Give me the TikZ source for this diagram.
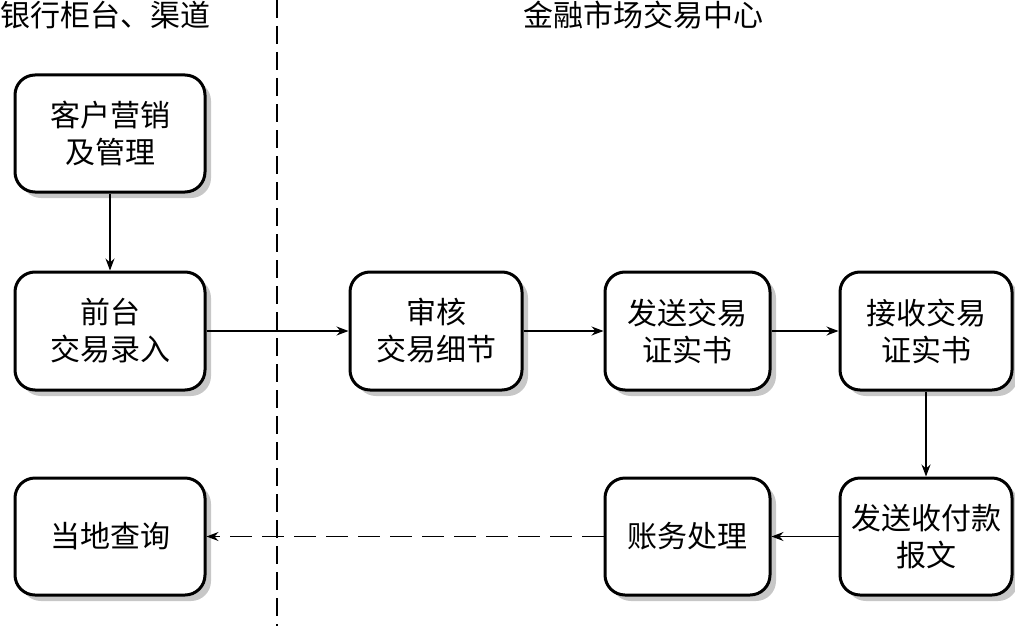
\documentclass[tikz,border=0pt]{standalone}
\usepackage{fontspec}
\newfontfamily\cjk{Noto Sans CJK SC}
\usetikzlibrary{arrows.meta,shadows}
\begin{document}
\begin{tikzpicture}[x=0.5pt,y=-0.5pt,
  box/.style={draw, line width=1.5pt, rounded corners=10pt, fill=white,
    align=center, inner sep=0pt, font=\cjk\fontsize{15}{18.5}\selectfont,
    drop shadow={shadow xshift=3pt, shadow yshift=-3pt, fill=black!22, opacity=1}},
  conn/.style={line width=0.6pt, -{Stealth[length=6pt,width=4.5pt,inset=2pt]}},
  hdr/.style={font=\cjk\fontsize{15}{16}\selectfont, inner sep=0pt}]
\useasboundingbox (0,0) rectangle (1015,626);
\node[hdr, anchor=west] (h1) at (0,15) {银行柜台、渠道};
\node[hdr] (h2) at (643,15) {金融市场交易中心};
\coordinate (dtop) at (277,0);
\coordinate (dbot) at (277,626);
\draw[line width=0.75pt, dash pattern=on 9pt off 4pt] (dtop) -- (dbot);
\node[box, minimum width=95pt, minimum height=58.5pt] (b1) at (110,133.5) {客户营销\\及管理};
\node[box, minimum width=95pt, minimum height=59pt] (b2) at (110,331) {前台\\交易录入};
\node[box, minimum width=95pt, minimum height=58.5pt] (b3) at (110,536.5) {当地查询};
\node[box, minimum width=86pt, minimum height=59pt] (b4) at (436,331) {审核\\交易细节};
\node[box, minimum width=82.5pt, minimum height=59pt] (b5) at (687.5,331) {发送交易\\证实书};
\node[box, minimum width=86pt, minimum height=59pt] (b6) at (926,331) {接收交易\\证实书};
\node[box, minimum width=86pt, minimum height=58.5pt] (b7) at (926,536.5) {发送收付款\\报文};
\node[box, minimum width=82.5pt, minimum height=58.5pt] (b8) at (687.5,536.5) {账务处理};
\draw[conn] (b1) -- (b2);
\draw[conn] (b2) -- (b4);
\draw[conn] (b4) -- (b5);
\draw[conn] (b5) -- (b6);
\draw[conn] (b6) -- (b7);
\draw[conn] (b7) -- (b8);
\draw[conn, dash pattern=on 11pt off 5pt] (b8) -- (b3);
\end{tikzpicture}
\end{document}
